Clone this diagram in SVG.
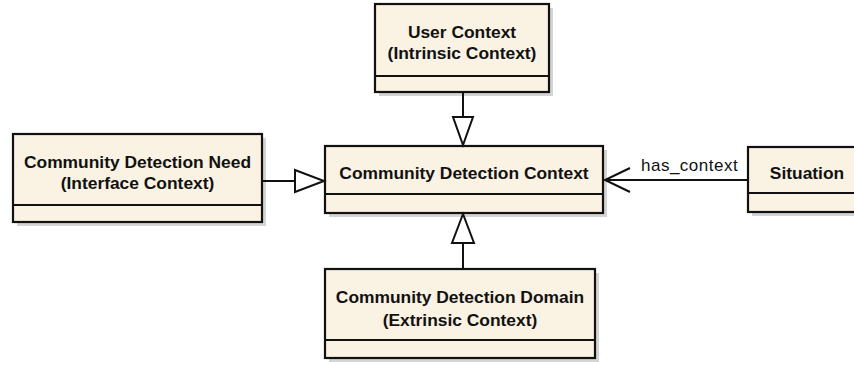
<svg xmlns="http://www.w3.org/2000/svg" width="854" height="365" viewBox="0 0 854 365">
<style>
.box{fill:#FAF2E3;stroke:#111;stroke-width:2.2}
.sh{fill:#c9c9c9;opacity:0.8}
.div{stroke:#111;stroke-width:2.2}
.t{font-family:"Liberation Sans",Arial,sans-serif;font-weight:bold;font-size:17.4px;fill:#111;text-anchor:middle}
.lbl{font-family:"Liberation Sans",Arial,sans-serif;font-size:17px;letter-spacing:0.5px;fill:#111}
.ln{stroke:#111;stroke-width:2;fill:none}
.tri{stroke:#111;stroke-width:2;fill:#fff}
</style>
<rect width="854" height="365" fill="#fff"/>
<g id="user-context">
<rect class="sh" x="379" y="8" width="174" height="88"/>
<rect class="box" x="375" y="4" width="174" height="88"/>
<line class="div" x1="375" y1="76" x2="549" y2="76"/>
<text class="t" x="462" y="38">User Context</text>
<text class="t" x="462" y="59">(Intrinsic Context)</text>
</g>
<g id="need">
<rect class="sh" x="17" y="138" width="249" height="88"/>
<rect class="box" x="13" y="134" width="249" height="88"/>
<line class="div" x1="13" y1="205" x2="262" y2="205"/>
<text class="t" x="137.5" y="168">Community Detection Need</text>
<text class="t" x="137.5" y="189">(Interface Context)</text>
</g>
<g id="context">
<rect class="sh" x="329" y="150" width="278" height="67"/>
<rect class="box" x="325" y="146" width="278" height="67"/>
<line class="div" x1="325" y1="194" x2="603" y2="194"/>
<text class="t" x="464" y="179">Community Detection Context</text>
</g>
<g id="situation">
<rect class="sh" x="752" y="151" width="130" height="65"/>
<rect class="box" x="748" y="147" width="130" height="65"/>
<line class="div" x1="748" y1="193" x2="878" y2="193"/>
<text class="t" x="807" y="179">Situation</text>
</g>
<g id="domain">
<rect class="sh" x="329" y="273" width="270" height="89"/>
<rect class="box" x="325" y="269" width="270" height="89"/>
<line class="div" x1="325" y1="340" x2="595" y2="340"/>
<text class="t" x="460" y="303">Community Detection Domain</text>
<text class="t" x="460" y="326">(Extrinsic Context)</text>
</g>
<g id="connectors">
<line class="ln" x1="463" y1="92" x2="463" y2="117"/>
<polygon class="tri" points="453,117 473,117 463,145"/>
<line class="ln" x1="262" y1="181" x2="295" y2="181"/>
<polygon class="tri" points="295,170 295,192 324,181"/>
<line class="ln" x1="463" y1="269" x2="463" y2="243"/>
<polygon class="tri" points="452,243 474,243 463,214"/>
<line class="ln" x1="748" y1="180" x2="605" y2="180"/>
<polyline class="ln" points="630,168 605,180 630,192"/>
<text class="lbl" x="641" y="171">has_context</text>
</g>
</svg>
